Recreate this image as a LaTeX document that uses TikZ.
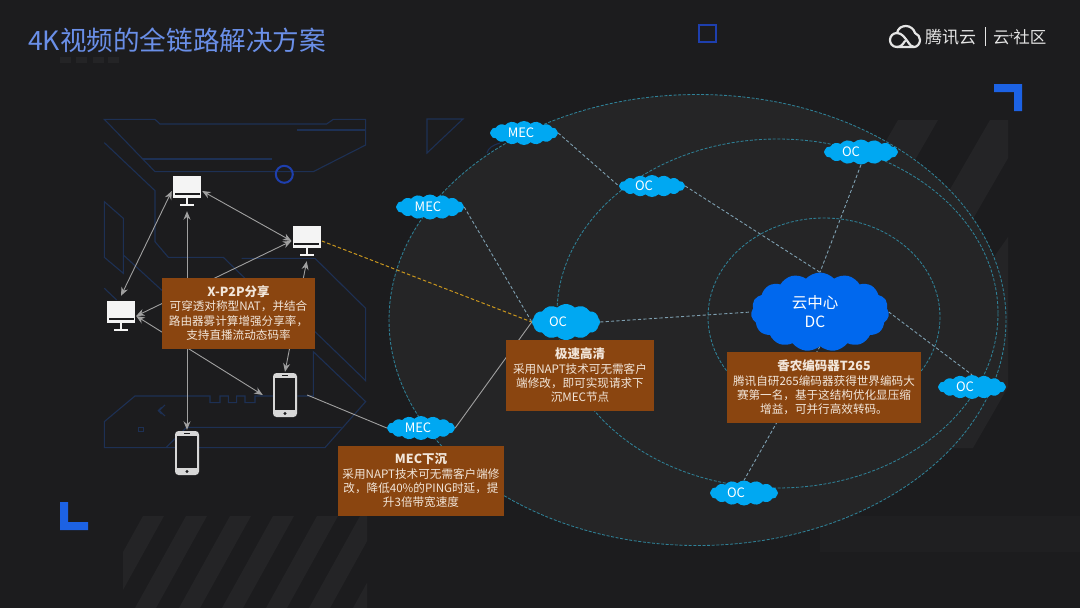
\documentclass[tikz,border=0pt]{standalone}
\usepackage{fontspec}
\setmainfont{Noto Sans CJK SC}
\usetikzlibrary{shapes.symbols,arrows.meta}
\definecolor{bgc}{HTML}{1C1C1E}
\definecolor{ellfill}{HTML}{252526}
\definecolor{stripec}{HTML}{242426}
\definecolor{ellline}{HTML}{2F8197}
\definecolor{linkc}{HTML}{7E9FB0}
\definecolor{circ}{HTML}{1D3054}
\definecolor{boxc}{HTML}{8A4510}
\definecolor{cloudc}{HTML}{00A8F2}
\definecolor{dcc}{HTML}{0068EE}
\definecolor{blu}{HTML}{1C62E4}
\definecolor{blu2}{HTML}{1E3FAE}
\definecolor{titlec}{HTML}{6A8FE8}
\definecolor{arrc}{HTML}{A0A0A0}
\definecolor{yell}{HTML}{C8961E}
\definecolor{boxtxt}{HTML}{F2E6DA}
\definecolor{devc}{HTML}{F4F4F4}
\pgfdeclarelayer{back}
\pgfdeclarelayer{conn}
\pgfsetlayers{back,conn,main}
\tikzset{
  ell/.style={draw=ellline,line width=0.85pt,dash pattern=on 3pt off 1.6pt},
  link/.style={draw=linkc,line width=0.9pt,dash pattern=on 3.2pt off 2.2pt},
  arr/.style={draw=arrc,line width=0.9pt,{Stealth[length=8.5pt,width=7pt]}-{Stealth[length=8.5pt,width=7pt]}},
  plainlink/.style={draw=arrc,line width=0.9pt},
  yelllink/.style={draw=yell,line width=1pt,dash pattern=on 3.5pt off 2.2pt},
  cloudn/.style 2 args={cloud,cloud ignores aspect,cloud puffs=16,cloud puff arc=90,fill=cloudc,draw=none,inner sep=0pt,
     text=white,font=\fontsize{13}{15}\selectfont,minimum width=#1,minimum height=#2},
  infobox/.style={fill=boxc,text=boxtxt,inner sep=0pt,align=center,font=\fontsize{11.6}{14.3}\selectfont},
  devnode/.style={inner sep=0pt,draw=none},
  circline/.style={draw=circ,line width=1.1pt},
}
\newcommand{\boxhead}[1]{{\bfseries\fontsize{12.5}{14.3}\selectfont #1}}
\newcommand{\monitor}[3]{%
  \node[devnode,minimum width=30pt,minimum height=40pt] (#1) at (#2,#3) {};
  \begin{scope}[shift={(#2,#3)}]
    \fill[devc] (-14,-15) rectangle (14,7);
    \fill[bgc] (-12.5,2.2) rectangle (12.5,4.2);
    \fill[devc] (-1,7) rectangle (1,13);
    \fill[devc] (-7,13) rectangle (7,15);
  \end{scope}}
\newcommand{\phonedev}[3]{%
  \node[devnode,minimum width=44pt,minimum height=46pt] (#1) at (#2,#3) {};
  \begin{scope}[shift={(#2,#3)}]
    \fill[devc!88!black,rounded corners=3.5pt] (-12,-22) rectangle (12,22);
    \fill[bgc] (-9.6,-17.5) rectangle (9.6,15);
    \fill[bgc] (0,18.5) circle (1.7);
    \fill[bgc] (-3,-20) rectangle (3,-19);
  \end{scope}}
\begin{document}
\begin{tikzpicture}[x=1pt,y=-1pt]
\useasboundingbox (0,0) rectangle (1080,608);
\begin{pgfonlayer}{back}
  \fill[bgc] (0,0) rectangle (1080,608);
  \begin{scope}
    \clip (123,516) rectangle (367,608);
    \foreach \xx in {143,186,230,273,317,360,404}
      \fill[stripec] (\xx,516) -- (\xx+21,516) -- (\xx+21-51,608) -- (\xx-51,608) -- cycle;
  \end{scope}
  \fill[stripec!35!bgc] (820,516) rectangle (1080,552);
  \begin{scope}
    \clip (880,120) rectangle (1008,448);
    \fill[stripec] (898,120) -- (938,120) -- (800,360) -- (760,360) -- cycle;
    \fill[stripec] (990,120) -- (1030,120) -- (880,380) -- (840,380) -- cycle;
    \fill[stripec] (1008,237) -- (1008,387) -- (973,448) -- (860,448) -- cycle;
  \end{scope}
  \foreach \xx in {60,76,93,108}
    \fill[stripec] (\xx,57) rectangle (\xx+11,63);
  \draw[circline] (487,153) .. controls (488,148) and (493,145) .. (500,143);
  \fill[ellfill] (697.5,320) ellipse [x radius=308.5,y radius=225.5];
  \draw[ell] (697.5,320) ellipse [x radius=308.5,y radius=225.5];
  \draw[ell] (777.5,313.5) ellipse [x radius=220.5,y radius=174.5];
  \draw[ell] (824,317) ellipse [x radius=116,y radius=99];
  \begin{scope}[shift={(60,100)},x=0.3333pt,y=-0.3333pt]
    \draw[circline] (133,58) -- (285,58) -- (300,72) -- (800,72) -- (820,58) -- (917,58) -- (917,135) -- (760,215) -- (285,215) -- cycle;
    \draw[circline] (712,90) -- (917,90);
    \draw[circline] (250,177) -- (635,177);
    \draw[circline] (133,128) -- (285,272) -- (285,425) -- (325,472) -- (490,472) -- (560,540);
    \draw[circline] (133,305) -- (190,355) -- (190,520) -- (133,472) -- cycle;
    \draw[circline] (190,465) -- (310,575);
    \draw[circline] (133,565) -- (170,600);
    \draw[circline] (545,475) -- (765,475) -- (917,625) -- (917,842) -- (765,695);
    \draw[circline] (640,888) -- (585,888) -- (585,908) -- (555,908) -- (555,888) -- (530,888) -- (530,908) -- (505,908) -- (505,888) -- (480,888) -- (480,908) -- (450,908) -- (450,888) -- (225,888) -- (133,965) -- (133,1043) -- (795,1043) -- (917,905) -- (760,755) -- (760,888) -- (712,888);
    \draw[circline] (318,1043) -- (380,982) -- (845,982);
    \draw[circline] (235,982) rectangle (250,995);
    \draw[circline] (315,915) -- (298,932) -- (315,948);
    \draw[circline] (305,922) -- (295,932) -- (305,942);
  \end{scope}
  \draw[circline] (427,119) -- (463,119) -- (427,153) -- cycle;
  \draw[draw=blu2,line width=2pt] (284.3,174.3) circle (8.5);
  \draw[draw=blu2,line width=2pt] (699,25) rectangle (716,42);
  \fill[blu] (994,84) -- (1022,84) -- (1022,111) -- (1014,111) -- (1014,92) -- (994,92) -- cycle;
  \fill[blu] (60,502) -- (68,502) -- (68,522) -- (88,522) -- (88,530) -- (60,530) -- cycle;
\end{pgfonlayer}

\node[anchor=west,text=titlec,font=\fontsize{26.6}{28}\selectfont,inner sep=0pt] (title) at (28,40) {4K视频的全链路解决方案};
\draw[white!90!black,line width=2.2pt,line join=round]
  (897,47) .. controls (892,47) and (890,43) .. (890,40) .. controls (890,36) and (893,33) .. (897,33)
  .. controls (898,28) and (902,26) .. (906,26) .. controls (910,26) and (914,29) .. (915,33)
  .. controls (918,34) and (920,37) .. (920,40) .. controls (920,44) and (917,47) .. (914,47) -- cycle;
\draw[white!90!black,line width=2.2pt,line cap=round]
  (897,33) .. controls (902,33) and (905,38) .. (908,42) .. controls (910,45) and (912,47) .. (914,47);
\draw[white!90!black,line width=2.2pt,line cap=round]
  (897,47) .. controls (901,47) and (903,44) .. (905,41);
\node[anchor=west,text=white!90!black,font=\fontsize{17}{19}\selectfont,inner sep=0pt] (logoa) at (925,37) {腾讯云};
\fill[white!90!black] (984.5,27) rectangle (986,46);
\node[anchor=west,text=white!90!black,font=\fontsize{16.5}{19}\selectfont,inner sep=0pt] (logob) at (993,37) {云\raisebox{4pt}{\fontsize{10}{10}\selectfont\kern-1pt+\kern-1pt}社区};

\monitor{ma}{187}{191}
\monitor{mb}{306.7}{241}
\monitor{mc}{121}{316}
\phonedev{pa}{285}{395}
\phonedev{pb}{187}{453}

\node[cloudn={68pt}{24pt}] (meca) at (524,133) {MEC\kern6pt};
\node[cloudn={68pt}{25pt}] (mecb) at (430,207) {MEC\kern4pt};
\node[cloudn={68pt}{24pt}] (mecc) at (421,428) {MEC\kern6pt};
\node[cloudn={66pt}{22pt}] (oca) at (652,186) {OC\kern16pt};
\node[cloudn={74pt}{25pt}] (ocb) at (861,152) {OC\kern20pt};
\node[cloudn={68pt}{24pt}] (occ) at (972,387) {OC\kern14pt};
\node[cloudn={68pt}{25pt}] (ocd) at (744,493) {OC\kern16pt};
\node[cloudn={68pt}{36pt},cloud puffs=12] (ocm) at (566,322) {OC\kern16pt};
\node[cloud,cloud ignores aspect,cloud puffs=15,cloud puff arc=95,fill=dcc,draw=none,inner sep=0pt,minimum width=138pt,minimum height=79pt,text=white,align=center,font=\fontsize{15.5}{19}\selectfont] (dc) at (820,312) {云中心\kern10pt\\DC\kern10pt};

\node[infobox,minimum width=153pt,minimum height=71pt] (boxa) at (238.5,313) {\boxhead{X-P2P分享}\\可穿透对称型NAT，并结合\\路由器雾计算增强分享率，\\支持直播流动态码率};
\node[infobox,minimum width=148pt,minimum height=71pt] (boxb) at (580,375.3) {\boxhead{极速高清}\\采用NAPT技术可无需客户\\端修改，即可实现请求下\\沉MEC节点};
\node[infobox,minimum width=166pt,minimum height=70pt] (boxc) at (421,480.7) {\boxhead{MEC下沉}\\采用NAPT技术可无需客户端修\\改，降低40\%的PING时延，提\\升3倍带宽速度};
\node[infobox,minimum width=194pt,minimum height=71pt] (boxd) at (824,387.5) {\boxhead{香农编码器T265}\\腾讯自研265编码器获得世界编码大\\赛第一名，基于这结构优化显压缩\\增益，可并行高效转码。};

\begin{pgfonlayer}{conn}
  \draw[arr] (ma.west) -- (mc.north);
  \draw[arr] (ma.south) -- (pb.north);
  \draw[arr] (ma.east) -- (mb.west);
  \draw[arr] (mb.west) -- (mc.east);
  \draw[arr] (mc.east) -- (pa.west);
  \draw[arr] (mb.south) -- (pa.north);
  \draw[plainlink] (pa.east) -- (mecc.west);
  \draw[plainlink] (mecc.east) -- (ocm.west);
  \draw[yelllink] (mb.east) -- (ocm.west);
  \draw[link] (meca.east) -- (oca.west);
  \draw[link] (oca.east) -- (dc.north);
  \draw[link] (ocb.south) -- (dc.north);
  \draw[link] (mecb.east) -- (ocm.west);
  \draw[link] (ocm.east) -- (dc.west);
  \draw[link] (dc.east) -- (occ.north);
  \draw[link] (dc.south) -- (ocd.north);
\end{pgfonlayer}
\end{tikzpicture}
\end{document}
